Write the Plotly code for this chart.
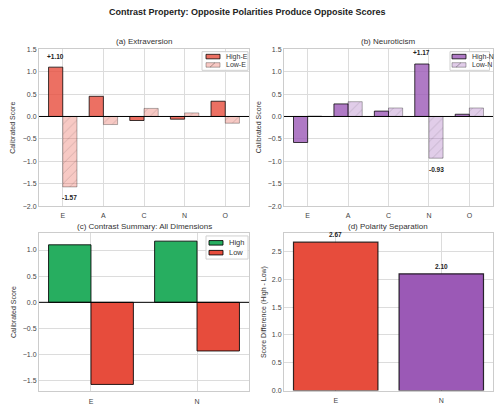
import plotly.graph_objects as go

# ---------------- data ----------------
traits = ["E", "A", "C", "N", "O"]
high_e = [1.10, 0.45, -0.09, -0.06, 0.34]
low_e = [-1.57, -0.18, 0.18, 0.08, -0.15]
high_n = [-0.58, 0.28, 0.12, 1.17, 0.05]
low_n = [0.01, 0.33, 0.19, -0.93, 0.19]

summary_dims = ["E", "N"]
summary_high = [1.10, 1.17]
summary_low = [-1.57, -0.93]

separation = [2.67, 2.10]

W, H = 494, 408
FONT = "Liberation Sans, Arial, Helvetica, sans-serif"

def px(x):
    return x / W

def py(y):
    return (H - y) / H

def xd(a, b):
    return [a / W, b / W]

def yd(top, bottom):
    return [(H - bottom) / H, (H - top) / H]

RED = "231,76,60"
PURPLE = "155,89,182"

fig = go.Figure()
idx = list(range(len(traits)))
idx2 = list(range(len(summary_dims)))

bw = 0.35
def pair(high, low, col, hname, lname, xa, ya):
    fig.add_trace(go.Bar(
        x=idx, y=high, width=bw, offset=-bw, name=hname, showlegend=False,
        marker=dict(color=f"rgba({col},0.8)", line=dict(color="rgba(0,0,0,0.75)", width=1)),
        xaxis=xa, yaxis=ya))
    fig.add_trace(go.Bar(
        x=idx, y=low, width=bw, offset=0, name=lname, showlegend=False,
        marker=dict(color=f"rgba({col},0.3)", line=dict(color="rgba(0,0,0,0.3)", width=1),
                    pattern=dict(shape="/", fgcolor="rgba(0,0,0,0.3)", bgcolor=f"rgba({col},0.3)",
                                 size=7, solidity=0.12)),
        xaxis=xa, yaxis=ya))

pair(high_e, low_e, RED, "High-E", "Low-E", "x", "y")
pair(high_n, low_n, PURPLE, "High-N", "Low-N", "x2", "y2")

w3 = 0.4
fig.add_trace(go.Bar(x=idx2, y=summary_high, width=w3, offset=-w3, name="High", showlegend=False,
                     marker=dict(color="#27ae60", line=dict(color="rgba(0,0,0,0.85)", width=1)),
                     xaxis="x3", yaxis="y3"))
fig.add_trace(go.Bar(x=idx2, y=summary_low, width=w3, offset=0, name="Low", showlegend=False,
                     marker=dict(color="#e74c3c", line=dict(color="rgba(0,0,0,0.85)", width=1)),
                     xaxis="x3", yaxis="y3"))

fig.add_trace(go.Bar(x=idx2, y=separation, width=0.8, showlegend=False,
                     marker=dict(color=["#e74c3c", "#9b59b6"], line=dict(color="rgba(0,0,0,0.8)", width=1.2)),
                     xaxis="x4", yaxis="y4"))

tickfont = dict(family=FONT, size=7, color="#444")
common_ax = dict(showgrid=True, gridcolor="#dcdcdc", gridwidth=1, showline=True, linecolor="#cccccc",
                 linewidth=1, mirror=True, ticks="", tickfont=tickfont, zeroline=False)

layout = dict(
    width=W, height=H, margin=dict(l=0, r=0, t=0, b=0),
    paper_bgcolor="white", plot_bgcolor="white", barmode="overlay", showlegend=False,
    font=dict(family=FONT, size=7, color="#333"),
    xaxis=dict(domain=xd(39, 249), range=[-0.585, 4.585], tickvals=idx, ticktext=traits, anchor="y",
               ticklabelstandoff=2, **common_ax),
    yaxis=dict(domain=yd(46, 205.7), range=[-2.0, 1.5], dtick=0.5, tickformat=".1f", anchor="x", **common_ax),
    xaxis2=dict(domain=xd(284, 493), range=[-0.585, 4.585], tickvals=idx, ticktext=traits, anchor="y2",
                ticklabelstandoff=2, **common_ax),
    yaxis2=dict(domain=yd(46, 205.7), range=[-2.0, 1.5], dtick=0.5, tickformat=".1f", anchor="x2", **common_ax),
    xaxis3=dict(domain=xd(39, 249), range=[-0.49, 1.49], tickvals=idx2, ticktext=summary_dims, anchor="y3",
                ticklabelstandoff=3, **common_ax),
    yaxis3=dict(domain=yd(233.3, 394), range=[-1.70, 1.32], dtick=0.5, tickformat=".1f", anchor="x3", **common_ax),
    xaxis4=dict(domain=xd(284, 493), range=[-0.49, 1.49], tickvals=idx2, ticktext=summary_dims, anchor="y4",
                ticklabelstandoff=3, **common_ax),
    yaxis4=dict(domain=yd(233.3, 393.3), range=[0, 2.83], dtick=0.5, tickformat=".1f", anchor="x4", **common_ax),
)
fig.update_layout(**layout)

shapes = []
# zero lines
for xa, ya in [("x", "y"), ("x2", "y2"), ("x3", "y3")]:
    shapes.append(dict(type="line", xref=f"{xa} domain", yref=ya, x0=0, x1=1, y0=0, y1=0,
                       line=dict(color="black", width=1)))

anns = []
def title(text, x, y, size=8, bold=False):
    anns.append(dict(text=f"<b>{text}</b>" if bold else text, x=px(x), y=py(y),
                     xref="paper", yref="paper", showarrow=False, xanchor="center", yanchor="middle",
                     font=dict(family=FONT, size=size, color="#222" if bold else "#333")))

title("Contrast Property: Opposite Polarities Produce Opposite Scores", 247, 8, size=9, bold=True)
title("(a) Extraversion", 144, 38.5)
title("(b) Neuroticism", 388, 38.5)
title("(c) Contrast Summary: All Dimensions", 144, 226.5)
title("(d) Polarity Separation", 388, 226.5)

def ytitle(text, x, y):
    anns.append(dict(text=text, x=px(x), y=py(y), xref="paper", yref="paper", showarrow=False,
                     textangle=-90, xanchor="center", yanchor="middle",
                     font=dict(family=FONT, size=7, color="#333")))

ytitle("Calibrated Score", 13, 126)
ytitle("Calibrated Score", 258.5, 126)
ytitle("Calibrated Score", 13, 313.5)
ytitle("Score Difference (High - Low)", 264, 313.5)

def vlabel(text, x, y, xa, ya):
    anns.append(dict(text=f"<b>{text}</b>", x=x, y=y, xref=xa, yref=ya, showarrow=False,
                     xanchor="center", yanchor="middle", font=dict(family=FONT, size=6.5, color="#222")))

ie = traits.index("E")
iN = traits.index("N")
vlabel(f"{high_e[ie]:+.2f}", ie - bw / 2, high_e[ie] + 0.24, "x", "y")
vlabel(f"{low_e[ie]:+.2f}", ie + bw / 2, low_e[ie] - 0.24, "x", "y")
vlabel(f"{high_n[iN]:+.2f}", iN - bw / 2, high_n[iN] + 0.25, "x2", "y2")
vlabel(f"{low_n[iN]:+.2f}", iN + bw / 2, low_n[iN] - 0.25, "x2", "y2")
for i, v in enumerate(separation):
    vlabel(f"{v:.2f}", i, v + 0.13, "x4", "y4")

# ---------------- manual legends (pixel layout) ----------------
def legend_box(x0, y0, x1, y1):
    shapes.append(dict(type="rect", xref="paper", yref="paper", x0=px(x0), x1=px(x1), y0=py(y1), y1=py(y0),
                       fillcolor="rgba(255,255,255,0.85)", line=dict(color="#d0d0d0", width=1), layer="above"))

def legend_item(x, y, label, fill, edge, hatch=False, size=7, sw=14, sh=4.6):
    shapes.append(dict(type="rect", xref="paper", yref="paper", x0=px(x), x1=px(x + sw),
                       y0=py(y + sh / 2), y1=py(y - sh / 2), fillcolor=fill,
                       line=dict(color=edge, width=1), layer="above"))
    if hatch:
        shapes.append(dict(type="line", xref="paper", yref="paper", x0=px(x + 4), x1=px(x + 9),
                           y0=py(y + sh / 2), y1=py(y - sh / 2), line=dict(color="rgba(0,0,0,0.3)", width=1),
                           layer="above"))
    anns.append(dict(text=label, x=px(x + sw + 4), y=py(y), xref="paper", yref="paper", showarrow=False,
                     xanchor="left", yanchor="middle", font=dict(family=FONT, size=size, color="#333")))

legend_box(202, 48.5, 248, 67.5)
legend_item(206, 53.5, "High-E", f"rgba({RED},0.8)", "rgba(0,0,0,0.75)")
legend_item(206, 62, "Low-E", f"rgba({RED},0.3)", "rgba(0,0,0,0.3)", hatch=True)

legend_box(450, 48.5, 489.5, 67.5)
legend_item(452, 53.5, "High-N", f"rgba({PURPLE},0.8)", "rgba(0,0,0,0.75)")
legend_item(452, 62, "Low-N", f"rgba({PURPLE},0.3)", "rgba(0,0,0,0.3)", hatch=True)

legend_box(206, 236, 248, 259.5)
legend_item(209, 243, "High", "#27ae60", "rgba(0,0,0,0.85)", size=7.5)
legend_item(209, 253, "Low", "#e74c3c", "rgba(0,0,0,0.85)", size=7.5)

fig.update_layout(annotations=anns, shapes=shapes)
fig.write_html("out.html", config={"displayModeBar": False},
               post_script="document.body.style.margin='0';document.body.style.overflow='hidden';")
